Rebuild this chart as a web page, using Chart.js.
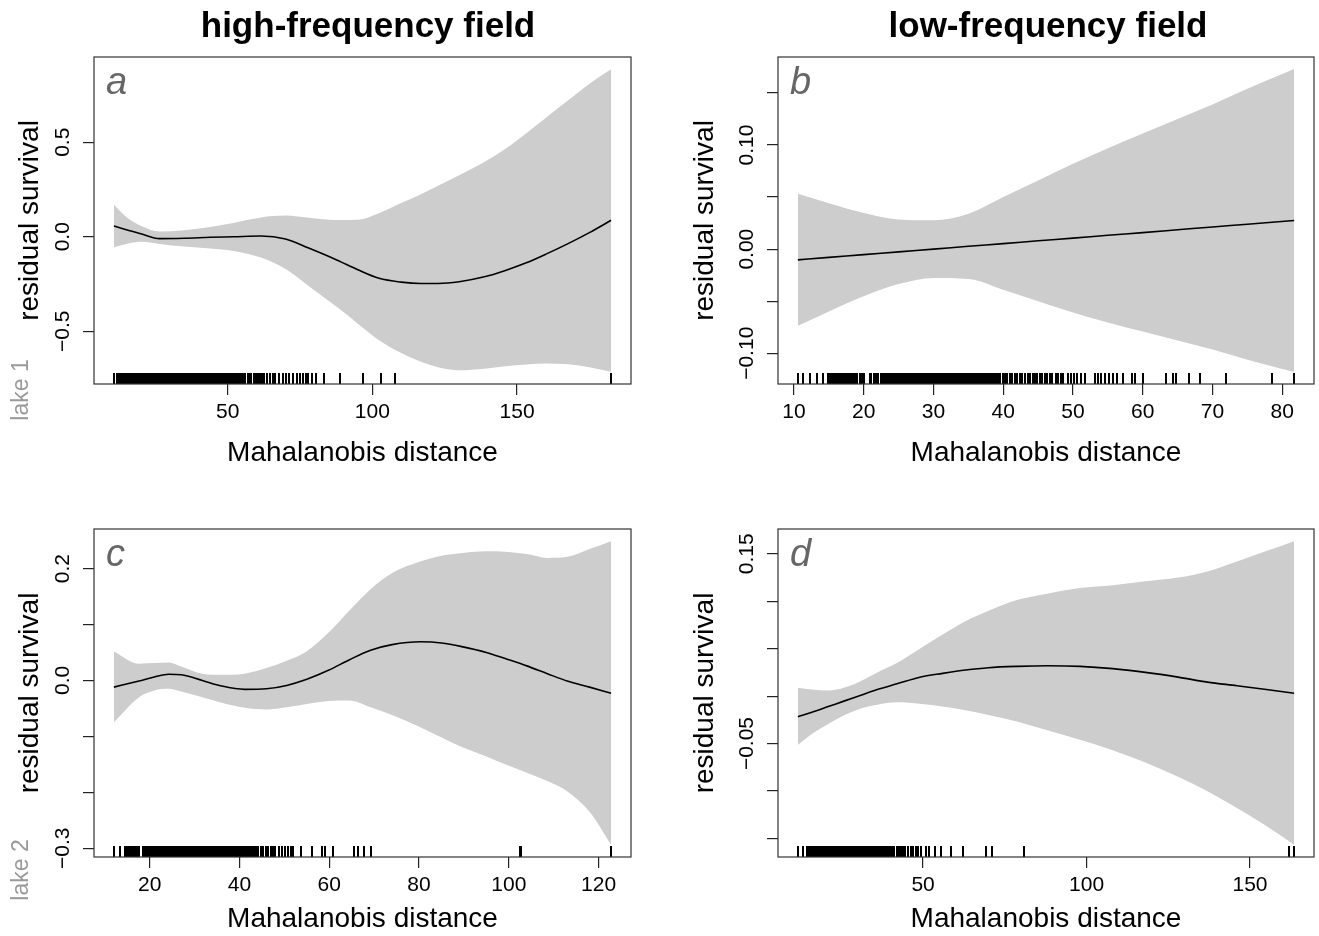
<!DOCTYPE html>
<html>
<head>
<meta charset="utf-8">
<title>Residual survival vs Mahalanobis distance</title>
<script src="https://cdn.jsdelivr.net/npm/chart.js@4.4.1/dist/chart.umd.min.js"></script>
<style>
  html, body { margin: 0; padding: 0; background: #fff; }
  #wrap { position: relative; width: 1319px; height: 936px; overflow: hidden; }
  canvas { position: absolute; }
</style>
</head>
<body>
<div id="wrap">
  <canvas id="panelA" width="660" height="470" style="left:0;top:0"></canvas>
  <canvas id="panelB" width="659" height="470" style="left:660px;top:0"></canvas>
  <canvas id="panelC" width="660" height="466" style="left:0;top:470px"></canvas>
  <canvas id="panelD" width="659" height="466" style="left:660px;top:470px"></canvas>
</div>
<script>
Chart.defaults.font.family = "'Liberation Sans', Arial, Helvetica, sans-serif";
Chart.defaults.color = '#000';

// ---- a: lake 1, high-frequency field
var distA  = [10.7, 15, 20, 26.5, 35, 44, 52, 61.5, 70, 78, 87.7, 95, 102.3, 110, 116.8, 122.7, 130, 138.7, 146, 153.2, 160, 167.8, 175, 182.5];
var fitA   = [0.057, 0.037, 0.016, -0.010, -0.008, -0.003, 0.000, 0.004, -0.012, -0.060, -0.123, -0.175, -0.220, -0.240, -0.247, -0.247, -0.238, -0.212, -0.178, -0.138, -0.092, -0.035, 0.022, 0.087];
var upperA = [0.168, 0.105, 0.058, 0.028, 0.035, 0.052, 0.073, 0.102, 0.112, 0.100, 0.088, 0.090, 0.125, 0.178, 0.225, 0.270, 0.325, 0.395, 0.465, 0.548, 0.630, 0.724, 0.810, 0.887];
var lowerA = [-0.056, -0.038, -0.027, -0.038, -0.052, -0.062, -0.075, -0.110, -0.170, -0.260, -0.371, -0.460, -0.547, -0.615, -0.662, -0.690, -0.706, -0.698, -0.685, -0.676, -0.671, -0.675, -0.690, -0.715];
var rugA = [10.7,
  11.9,12.3,12.6,13.1,13.5,13.8,14.3,14.7,15.0,15.4,15.9,16.2,16.6,17.1,17.4,17.8,18.3,18.6,19.0,19.5,19.8,
  20.2,20.7,21.0,21.4,21.9,22.2,22.6,23.1,23.4,23.8,24.3,24.6,25.0,25.5,25.8,26.2,26.7,27.0,27.4,27.9,28.2,
  28.6,29.1,29.4,29.8,30.3,30.6,31.0,31.5,31.8,32.2,32.7,33.0,33.4,33.9,34.2,34.6,35.1,35.4,35.8,36.3,36.6,
  37.0,37.5,37.8,38.2,38.7,39.0,39.4,39.9,40.2,40.6,41.1,41.4,41.8,42.3,42.6,43.0,43.5,43.8,44.2,44.7,45.0,
  45.4,45.9,46.2,46.6,47.1,47.4,47.8,48.3,48.6,49.0,49.5,49.8,
  50.3,50.8,51.2,51.9,52.4,53.0,53.5,54.3,54.8,55.6,56.1,57.0,57.6,58.2,59.1,59.7,60.4,61.2,62.0,62.6,63.5,
  64.8,65.6,66.3,67.9,69.0,70.2,71.1,72.5,73.8,75.0,76.2,77.1,77.8,79.3,80.5,83.4,
  88.7, 96.7, 103.1, 108.0, 182.5];
var xTicksA = [50, 100, 150];
var yTicksA = [-0.5, 0, 0.5];
var yLabelsA = ['\u22120.5', '0.0', '0.5'];

// ---- b: lake 1, low-frequency field
var distB  = [10.55, 15, 20, 25, 30, 35, 40, 45, 50, 55, 60, 65, 70, 75, 81.7];
var fitB   = [-0.0103, -0.0079, -0.0053, -0.0026, 0.0000, 0.0027, 0.0053, 0.0080, 0.0106, 0.0133, 0.0159, 0.0186, 0.0213, 0.0239, 0.0275];
var upperB = [0.0531, 0.0441, 0.0347, 0.0284, 0.0277, 0.0340, 0.0500, 0.0660, 0.0820, 0.0970, 0.1110, 0.1250, 0.1390, 0.1540, 0.1729];
var lowerB = [-0.0737, -0.0599, -0.0453, -0.0336, -0.0277, -0.0286, -0.0390, -0.0500, -0.0608, -0.0704, -0.0792, -0.0878, -0.0964, -0.1062, -0.1179];
var rugB = [10.6, 11.3, 12.3, 13.3, 14.2,
  14.9,15.1,15.4,15.6,15.9,16.1,16.4,16.6,16.9,17.1,17.4,17.6,17.9,18.1,18.4,18.6,18.9,19.1,19.4,19.6,19.9,
  20.1,20.9,21.1,21.4,21.6,21.9,22.1,22.4,22.6,22.9,23.1,23.4,23.6,23.9,24.1,24.4,24.6,24.9,25.1,25.4,25.6,
  25.9,26.1,26.4,26.6,26.9,27.1,27.4,27.6,27.9,28.1,28.4,28.6,28.9,29.1,29.4,29.6,29.9,30.1,30.4,30.6,30.9,
  31.1,31.4,31.6,31.9,32.1,32.4,32.6,32.9,33.1,33.4,33.6,33.9,34.1,34.4,34.6,34.9,35.1,35.4,35.6,35.9,36.1,
  36.4,36.6,36.9,37.1,37.4,37.6,37.9,38.1,38.4,38.6,38.9,39.1,39.4,39.6,39.9,
  40.3,40.6,41.0,41.3,41.7,42.0,42.4,42.7,43.1,43.5,43.8,44.2,44.5,44.8,45.2,45.6,46.0,46.3,46.7,47.0,47.5,
  47.9,48.3,48.6,
  49.3,49.7,50.2,50.6,51.1,51.7,53.2,53.6,54.0,54.6,55.2,55.8,56.3,57.2,58.4,58.9,60.0,
  63.3,64.4,64.8,66.6,68.2,71.9,78.5,81.7];
var xTicksB = [10, 20, 30, 40, 50, 60, 70, 80];
var yTicksB = [-0.10, -0.05, 0, 0.05, 0.10, 0.15];
var yLabelsB = ['\u22120.10', '', '0.00', '', '0.10', ''];

// ---- c: lake 2, high-frequency field
var distC  = [12.0, 17.6, 21, 24.2, 27, 31.7, 36, 41.1, 46, 50.5, 55, 59.8, 64.5, 69.2, 74, 80.4, 85, 89.8, 95, 99.2, 104, 108.6, 113, 118, 122.8];
var fitC   = [-0.012, -0.001, 0.006, 0.011, 0.010, 0.000, -0.010, -0.016, -0.015, -0.009, 0.002, 0.018, 0.037, 0.054, 0.064, 0.069, 0.067, 0.060, 0.050, 0.039, 0.026, 0.012, -0.001, -0.012, -0.023];
var upperC = [0.052, 0.030, 0.031, 0.032, 0.025, 0.012, 0.010, 0.012, 0.022, 0.035, 0.052, 0.085, 0.125, 0.163, 0.192, 0.213, 0.223, 0.228, 0.231, 0.230, 0.226, 0.219, 0.221, 0.235, 0.249];
var lowerC = [-0.075, -0.030, -0.018, -0.015, -0.020, -0.030, -0.040, -0.049, -0.052, -0.048, -0.042, -0.037, -0.036, -0.048, -0.062, -0.084, -0.102, -0.120, -0.136, -0.150, -0.165, -0.180, -0.198, -0.235, -0.294];
var rugC = [12.0, 13.4, 14.4,
  14.8,15.1,15.4,15.8,16.1,16.4,16.7,17.1,17.4,17.7,18.4,18.7,19.0,19.4,19.7,20.0,20.3,20.7,21.0,21.3,21.6,
  22.0,22.3,22.6,22.9,23.3,23.6,23.9,24.2,24.6,24.9,25.2,25.5,25.9,26.2,26.5,26.8,27.2,27.5,27.8,28.1,28.5,
  28.8,29.1,29.4,29.8,30.1,30.4,30.7,31.1,31.4,31.7,32.0,32.4,32.7,33.0,33.3,33.7,34.0,34.3,34.6,35.0,35.3,
  35.6,35.9,36.3,36.6,36.9,37.2,37.6,37.9,38.2,38.5,38.9,39.2,39.5,39.8,40.2,40.5,40.8,41.1,41.5,41.8,
  42.3,42.7,43.2,43.6,44.1,44.7,45.2,45.8,46.3,46.9,47.5,48.0,48.8,49.4,50.1,50.7,51.4,52.0,
  53.7, 56.1, 58.4, 59.0, 60.8, 65.5, 66.4, 67.8, 69.2, 102.5, 102.8, 122.8];
var xTicksC = [20, 40, 60, 80, 100, 120];
var yTicksC = [-0.3, -0.2, -0.1, 0, 0.1, 0.2];
var yLabelsC = ['\u22120.3', '', '', '0.0', '', '0.2'];

// ---- d: lake 2, low-frequency field
var distD  = [11.7, 16, 21, 26, 31, 36, 42, 49, 56, 63, 70, 79, 88, 98, 108, 118, 128, 137, 146, 155, 163.5];
var fitD   = [-0.0217, -0.017, -0.011, -0.005, 0.001, 0.007, 0.013, 0.020, 0.024, 0.0275, 0.030, 0.0314, 0.032, 0.0314, 0.029, 0.025, 0.020, 0.0148, 0.011, 0.007, 0.003];
var upperD = [0.0088, 0.007, 0.0059, 0.009, 0.016, 0.025, 0.035, 0.050, 0.065, 0.079, 0.090, 0.1015, 0.108, 0.1139, 0.117, 0.121, 0.125, 0.1315, 0.142, 0.153, 0.1634];
var lowerD = [-0.0514, -0.040, -0.0294, -0.020, -0.013, -0.009, -0.0065, -0.008, -0.011, -0.015, -0.020, -0.027, -0.036, -0.046, -0.057, -0.070, -0.085, -0.1002, -0.118, -0.137, -0.1568];
var rugD = [11.7, 13.3, 14.6,
  15.2,15.6,16.1,16.5,17.0,17.4,17.9,18.3,18.8,19.2,19.7,20.1,20.6,21.0,21.5,21.9,22.4,22.8,23.3,23.7,24.2,
  24.6,25.1,25.5,26.0,26.4,26.9,27.3,27.8,28.2,28.7,29.1,29.6,30.0,30.5,30.9,31.4,31.8,32.3,32.7,33.2,33.6,
  34.1,34.5,35.0,35.4,35.9,36.3,36.8,37.2,37.7,38.1,38.6,39.0,
  39.6,40.1,40.7,41.2,41.9,42.5,43.1,43.9,44.6,45.3,46.2,47.0,47.8,48.6,49.3,
  50.8, 51.9, 53.8, 55.5, 58.4, 62.2, 69.3, 71.2, 80.9, 162.0, 163.5];
var xTicksD = [50, 100, 150];
var yTicksD = [-0.15, -0.10, -0.05, 0, 0.05, 0.10, 0.15];
var yLabelsD = ['', '', '\u22120.05', '', '', '', '0.15'];

var FONT = "'Liberation Sans', Arial, Helvetica, sans-serif";

// frame, rug, panel letter, rotated y labels and outer margin texts
var panelDecor = {
  id: 'panelDecor',
  afterDatasetsDraw: function (chart, args, o) {
    var ctx = chart.ctx, area = chart.chartArea;
    var xs = chart.scales.x, ys = chart.scales.y;
    ctx.save();
    // rug ticks snapped to whole pixels so dense runs read as solid black
    ctx.strokeStyle = '#000';
    ctx.lineWidth = 2;
    ctx.beginPath();
    o.rug.forEach(function (v) {
      var px = Math.round(xs.getPixelForValue(v));
      ctx.moveTo(px, area.bottom);
      ctx.lineTo(px, area.bottom - 11);
    });
    ctx.stroke();

    ctx.strokeStyle = '#333';
    ctx.lineWidth = 1.2;
    ctx.strokeRect(area.left, area.top, area.right - area.left, area.bottom - area.top);

    ctx.fillStyle = '#666';
    ctx.font = 'italic 38px ' + FONT;
    ctx.textAlign = 'left';
    ctx.textBaseline = 'alphabetic';
    ctx.fillText(o.letter, area.left + 12, area.top + 36.5);

    ctx.fillStyle = '#000';
    ctx.font = '21px ' + FONT;
    ctx.textAlign = 'center';
    ctx.textBaseline = 'middle';
    o.yTicks.forEach(function (v, i) {
      if (!o.yLabels[i]) return;
      ctx.save();
      ctx.translate(area.left - 31, ys.getPixelForValue(v));
      ctx.rotate(-Math.PI / 2);
      ctx.fillText(o.yLabels[i], 0, 0);
      ctx.restore();
    });

    if (o.side) {
      ctx.save();
      ctx.fillStyle = '#999';
      ctx.font = '23px ' + FONT;
      ctx.translate(o.side.x, o.side.y);
      ctx.rotate(-Math.PI / 2);
      ctx.fillText(o.side.text, 0, 0);
      ctx.restore();
    }
    if (o.heading) {
      ctx.fillStyle = '#000';
      ctx.font = 'bold 35px ' + FONT;
      ctx.textBaseline = 'alphabetic';
      ctx.fillText(o.heading.text, o.heading.x, o.heading.y);
    }
    ctx.restore();
  }
};

function makePanel(canvasId, p) {
  var xs = p.dist;
  var lo = Math.min.apply(null, p.lower), hi = Math.max.apply(null, p.upper);
  var x0 = xs[0], x1 = xs[xs.length - 1];
  var padX = (x1 - x0) * 0.04, padY = (hi - lo) * 0.04;
  function pts(arr) {
    return xs.map(function (x, i) { return { x: x, y: arr[i] }; });
  }
  var tickGrid = { drawOnChartArea: false, drawTicks: true, tickLength: 11, color: '#222', lineWidth: 1.2 };

  return new Chart(document.getElementById(canvasId), {
    type: 'line',
    data: {
      datasets: [
        { data: pts(p.fit), borderColor: '#000', borderWidth: 1.6, pointRadius: 0, fill: false, cubicInterpolationMode: 'monotone' },
        { data: pts(p.upper), borderWidth: 0, borderColor: 'rgba(0,0,0,0)', backgroundColor: '#cdcdcd', pointRadius: 0, fill: '+1', cubicInterpolationMode: 'monotone' },
        { data: pts(p.lower), borderWidth: 0, borderColor: 'rgba(0,0,0,0)', pointRadius: 0, fill: false, cubicInterpolationMode: 'monotone' }
      ]
    },
    options: {
      responsive: false,
      animation: false,
      devicePixelRatio: 1,
      layout: { padding: p.padding },
      plugins: {
        legend: { display: false },
        tooltip: { enabled: false },
        panelDecor: { rug: p.rug, letter: p.letter, yTicks: p.yTicks, yLabels: p.yLabels, side: p.side, heading: p.heading }
      },
      scales: {
        x: {
          type: 'linear', bounds: 'data',
          min: x0 - padX, max: x1 + padX,
          afterBuildTicks: function (s) { s.ticks = p.xTicks.map(function (v) { return { value: v }; }); },
          afterFit: function (s) { s.height = p.xAxisHeight; },
          grid: tickGrid,
          border: { display: false },
          ticks: { font: { size: 21 }, padding: 5, color: '#000', maxRotation: 0, autoSkip: false,
                   callback: function (v) { return String(v); } },
          title: { display: true, text: 'Mahalanobis distance', font: { size: 28 }, color: '#000', padding: { top: 0, bottom: 0 } }
        },
        y: {
          type: 'linear', bounds: 'data',
          min: lo - padY, max: hi + padY,
          afterBuildTicks: function (s) { s.ticks = p.yTicks.map(function (v) { return { value: v }; }); },
          afterFit: function (s) { s.width = p.yAxisWidth; },
          grid: tickGrid,
          border: { display: false },
          ticks: { display: false },
          title: { display: true, text: 'residual survival', font: { size: 28 }, color: '#000', padding: { top: p.yTitlePad, bottom: 0 } }
        }
      }
    },
    plugins: [panelDecor]
  });
}

makePanel('panelA', {
  dist: distA, fit: fitA, upper: upperA, lower: lowerA, rug: rugA,
  xTicks: xTicksA, yTicks: yTicksA, yLabels: yLabelsA, letter: 'a',
  padding: { left: 0, top: 57, right: 29, bottom: 0 }, yAxisWidth: 94, xAxisHeight: 86, yTitlePad: 13,
  side: { text: 'lake 1', x: 22, y: 390 },
  heading: { text: 'high-frequency field', x: 368, y: 37 }
});
makePanel('panelB', {
  dist: distB, fit: fitB, upper: upperB, lower: lowerB, rug: rugB,
  xTicks: xTicksB, yTicks: yTicksB, yLabels: yLabelsB, letter: 'b',
  padding: { left: 0, top: 57, right: 5, bottom: 0 }, yAxisWidth: 118, xAxisHeight: 86, yTitlePad: 28,
  heading: { text: 'low-frequency field', x: 388, y: 37 }
});
makePanel('panelC', {
  dist: distC, fit: fitC, upper: upperC, lower: lowerC, rug: rugC,
  xTicks: xTicksC, yTicks: yTicksC, yLabels: yLabelsC, letter: 'c',
  padding: { left: 0, top: 59, right: 29, bottom: 0 }, yAxisWidth: 94, xAxisHeight: 79, yTitlePad: 13,
  side: { text: 'lake 2', x: 22, y: 400 }
});
makePanel('panelD', {
  dist: distD, fit: fitD, upper: upperD, lower: lowerD, rug: rugD,
  xTicks: xTicksD, yTicks: yTicksD, yLabels: yLabelsD, letter: 'd',
  padding: { left: 0, top: 59, right: 5, bottom: 0 }, yAxisWidth: 118, xAxisHeight: 79, yTitlePad: 28
});
</script>
</body>
</html>
